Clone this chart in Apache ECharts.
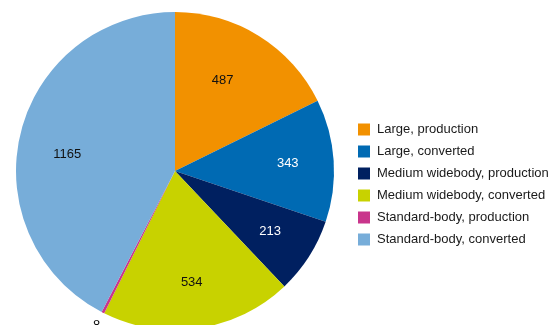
<!DOCTYPE html>
<html>
<head>
<meta charset="utf-8">
<script src="https://cdn.jsdelivr.net/npm/echarts@6/dist/echarts.min.js"></script>
<style>
  html, body { margin: 0; padding: 0; background: #fff; }
  #chart { width: 553px; height: 325px; }
</style>
</head>
<body>
<div id="chart"></div>
<script>
// Fleet segments and their counts
const categories = [
  'Large, production',
  'Large, converted',
  'Medium widebody, production',
  'Medium widebody, converted',
  'Standard-body, production',
  'Standard-body, converted'
];
const values = [487, 343, 213, 534, 8, 1165];
const colors = ['#F29100', '#006AB3', '#002060', '#C8D200', '#C9358C', '#77ADD9'];
const labelColors = ['#111', '#fff', '#fff', '#111', '#111', '#111'];
// small nudges for a couple of value labels
const labelNudge = [[-12, 5], [0, 0], [0, 0], [0, 0], [0, 0], [2, 10]];

const CENTER = [175, 171];
const RADIUS = 159;
const total = values.reduce((a, b) => a + b, 0);
// very thin slices get their label placed just beyond the rim
const isThin = v => v / total < 0.02;

const chart = echarts.init(document.getElementById('chart'));

const baseData = categories.map((name, i) => ({
  name, value: values[i], itemStyle: { color: colors[i] }
}));

// transparent pie used only to carry labels at a chosen radius
function labelRing(outerR, pick) {
  return {
    type: 'pie',
    silent: true,
    center: CENTER,
    radius: [0, outerR],
    startAngle: 90,
    clockwise: true,
    legendHoverLink: false,
    itemStyle: { color: 'rgba(0,0,0,0)', borderWidth: 0 },
    emphasis: { disabled: true },
    labelLine: { show: false },
    data: categories.map((name, i) => ({
      name, value: values[i],
      label: {
        show: pick(values[i]),
        position: 'inside',
        formatter: '{c}',
        offset: labelNudge[i],
        color: labelColors[i],
        fontSize: 13,
        fontFamily: 'Liberation Sans, Arial, sans-serif'
      }
    }))
  };
}

chart.setOption({
  animation: false,
  color: colors,
  legend: {
    orient: 'vertical',
    left: 358,
    top: 123,
    padding: 0,
    itemWidth: 12,
    itemHeight: 12,
    itemGap: 9,
    icon: 'rect',
    selectedMode: false,
    data: categories,
    textStyle: {
      fontSize: 13,
      color: '#1a1a1a',
      fontFamily: 'Liberation Sans, Arial, sans-serif',
      padding: [0, 0, 0, 2]
    }
  },
  series: [
    {
      type: 'pie',
      center: CENTER,
      radius: [0, RADIUS],
      startAngle: 90,
      clockwise: true,
      itemStyle: { borderWidth: 0 },
      label: { show: false },
      labelLine: { show: false },
      emphasis: { disabled: true },
      data: baseData
    },
    labelRing(2 * 110, v => !isThin(v)),
    labelRing(2 * 170, v => isThin(v))
  ]
});
</script>
</body>
</html>
